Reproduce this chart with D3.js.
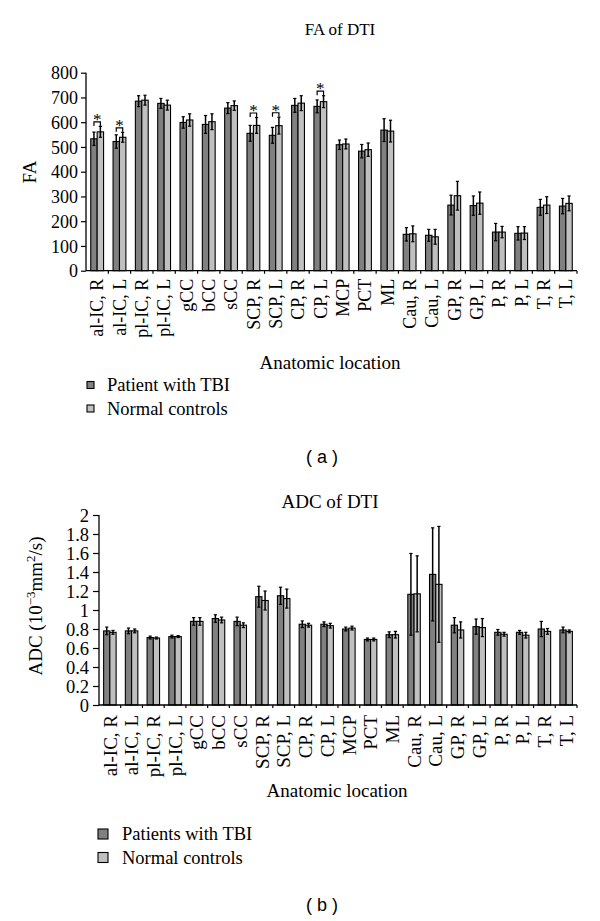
<!DOCTYPE html>
<html>
<head>
<meta charset="utf-8">
<script src="https://cdn.jsdelivr.net/npm/d3@7"></script>
<style>
  html, body { margin: 0; padding: 0; background: #fff; }
  svg { display: block; }
</style>
</head>
<body>
<svg id="chart" width="600" height="921"></svg>
<script>
// ---------- DATA ----------
const categories = ["al-IC, R","al-IC, L","pl-IC, R","pl-IC, L","gCC","bCC","sCC","SCP, R","SCP, L","CP, R","CP, L","MCP","PCT","ML","Cau, R","Cau, L","GP, R","GP, L","P, R","P, L","T, R","T, L"];

const faPatient     = [533,522,685,676,599,591,657,555,547,668,664,509,483,568,147,143,265,263,156,151,256,261];
const faPatientErr  = [27,27,22,20,23,36,22,32,32,28,26,19,27,46,27,24,40,39,35,27,32,31];
const faControl     = [561,539,689,669,609,602,667,587,586,677,683,512,489,564,149,137,303,273,156,152,265,272];
const faControlErr  = [22,20,20,20,25,32,19,32,34,30,24,20,27,44,32,30,58,45,23,26,34,30];
const faSignificant = ["al-IC, R","al-IC, L","SCP, R","SCP, L","CP, L"];
const faTicks = [0,100,200,300,400,500,600,700,800];

const adcPatient    = [0.78,0.78,0.71,0.72,0.88,0.91,0.88,1.14,1.15,0.85,0.85,0.80,0.69,0.74,1.165,1.375,0.84,0.825,0.765,0.765,0.80,0.79];
const adcPatientErr = [0.04,0.03,0.015,0.015,0.04,0.04,0.045,0.11,0.09,0.035,0.025,0.02,0.015,0.03,0.43,0.49,0.08,0.08,0.03,0.02,0.08,0.03];
const adcControl    = [0.765,0.78,0.705,0.72,0.88,0.895,0.84,1.10,1.12,0.84,0.835,0.81,0.69,0.74,1.17,1.27,0.79,0.815,0.745,0.735,0.775,0.775];
const adcControlErr = [0.02,0.02,0.01,0.01,0.04,0.03,0.025,0.10,0.10,0.02,0.025,0.02,0.015,0.035,0.40,0.61,0.085,0.095,0.02,0.03,0.03,0.015];
const adcTicks = [0,0.2,0.4,0.6,0.8,1,1.2,1.4,1.6,1.8,2];

const seriesKeys = ["patient","control"];
const seriesColors = ["#808080","#c0c0c0"];

const SERIF = '"Liberation Serif", "DejaVu Serif", serif';
const SANS = '"Liberation Sans", Arial, sans-serif';

// ---------- DRAW ----------
const svg = d3.select("#chart");
svg.append("rect").attr("width",600).attr("height",921).attr("fill","#fff");

function serifText(sel) { return sel.style("font-family", SERIF).attr("fill", "#000"); }

function drawChart(cfg) {
  const g = svg.append("g");
  const x0 = d3.scaleBand().domain(categories).range([cfg.left, cfg.right]).padding(0);
  const x1 = d3.scaleBand().domain(seriesKeys).range([0, x0.bandwidth()]).paddingInner(0).paddingOuter(0.74);
  const y = d3.scaleLinear().domain(cfg.domain).range([cfg.bottom, cfg.top]);

  const rows = categories.map((c,i) => ({
    cat: c,
    vals: [
      {key:"patient", v: cfg.patient[i], e: cfg.patientErr[i]},
      {key:"control", v: cfg.control[i], e: cfg.controlErr[i]}
    ]
  }));

  const grp = g.selectAll(".grp").data(rows).enter().append("g")
    .attr("transform", d => `translate(${x0(d.cat)},0)`);
  grp.selectAll("rect").data(d => d.vals).enter().append("rect")
    .attr("x", d => x1(d.key))
    .attr("y", d => y(d.v))
    .attr("width", x1.bandwidth())
    .attr("height", d => y(0) - y(d.v))
    .attr("fill", (d,i) => seriesColors[i])
    .attr("stroke", "#000").attr("stroke-width", 1.1);

  const eb = grp.selectAll(".eb").data(d => d.vals).enter().append("g");
  const cx = d => x1(d.key) + x1.bandwidth()/2;
  eb.append("line")
    .attr("x1", cx).attr("x2", cx)
    .attr("y1", d => y(d.v + d.e)).attr("y2", d => y(d.v - d.e))
    .attr("stroke","#000").attr("stroke-width",1.5);
  [1,-1].forEach(s => {
    eb.append("line")
      .attr("x1", d => cx(d) - 1.6).attr("x2", d => cx(d) + 1.6)
      .attr("y1", d => y(d.v + s*d.e)).attr("y2", d => y(d.v + s*d.e))
      .attr("stroke","#000").attr("stroke-width",1.2);
  });

  if (cfg.significant) {
    rows.filter(r => cfg.significant.includes(r.cat)).forEach(r => {
      const top = d3.min(r.vals, d => y(d.v + d.e));
      const by = top - 4.5;
      const xa = x0(r.cat) + cx(r.vals[0]);
      const xb = x0(r.cat) + cx(r.vals[1]);
      g.append("path")
        .attr("d", `M${xa},${by+4}V${by}H${xb}V${by+4}`)
        .attr("fill","none").attr("stroke","#000").attr("stroke-width",1.2);
      serifText(g.append("text"))
        .attr("x", (xa+xb)/2).attr("y", by + 3)
        .attr("text-anchor","middle").attr("font-size", 17)
        .text("*");
    });
  }

  // y axis
  const yAxis = d3.axisLeft(y).tickValues(cfg.ticks).tickSize(cfg.yTickSize).tickPadding(cfg.yTickPad)
    .tickFormat(d => String(d));
  const ya = g.append("g").attr("transform", `translate(${cfg.left},0)`).call(yAxis);
  ya.select(".domain").attr("d", `M0,${y(cfg.domain[0])}V${y(cfg.domain[1])}`).attr("stroke","#000").attr("stroke-width",1.3);
  ya.selectAll(".tick line").attr("stroke","#000").attr("stroke-width",1.2);
  serifText(ya.selectAll(".tick text")).attr("font-size", cfg.yTickFont).attr("dy","0.34em");

  // x axis
  const xa = g.append("g").attr("transform", `translate(0,${cfg.bottom})`);
  xa.append("line").attr("x1", cfg.left).attr("x2", cfg.right).attr("y1",0).attr("y2",0)
    .attr("stroke","#000").attr("stroke-width",1.3);
  const bounds = categories.map(c => x0(c) + x0.bandwidth());
  xa.selectAll(".xt").data(bounds).enter().append("line")
    .attr("x1", d => d).attr("x2", d => d).attr("y1", 0).attr("y2", 3)
    .attr("stroke","#000").attr("stroke-width",1.2);
  serifText(xa.selectAll(".xl").data(categories).enter().append("text"))
    .attr("transform", d => `translate(${x0(d) + x0.bandwidth()/2},${cfg.xLabelGap}) rotate(-90)`)
    .attr("text-anchor","end").attr("dy","0.35em")
    .attr("font-size", cfg.xTickFont)
    .text(d => d);

  serifText(svg.append("text")).attr("x", cfg.titleX).attr("y", cfg.titleY)
    .attr("text-anchor","middle").attr("font-size", cfg.titleFont).text(cfg.title);
  serifText(svg.append("text")).attr("x", cfg.xTitleX).attr("y", cfg.xTitleY)
    .attr("text-anchor","middle").attr("font-size", 19).text("Anatomic location");

  cfg.legend.forEach((name,i) => {
    const ly = cfg.legendY + i*cfg.legendStep;
    svg.append("rect").attr("x", cfg.legendX).attr("y", ly - cfg.legendBox/2)
      .attr("width", cfg.legendBox).attr("height", cfg.legendBox)
      .attr("fill", seriesColors[i]).attr("stroke","#000").attr("stroke-width",1.1);
    serifText(svg.append("text")).attr("x", cfg.legendTextX).attr("y", ly)
      .attr("dy","0.35em").attr("font-size", 18.5).text(name);
  });

  svg.append("text").style("font-family", SANS).attr("fill","#000")
    .attr("x", 322).attr("y", cfg.panelY)
    .attr("text-anchor","middle").attr("dy","0.35em").attr("font-size", 18)
    .style("white-space","pre").text(cfg.panel);
  return y;
}

// (a) FA
drawChart({
  left: 86, right: 577, top: 72.7, bottom: 270.7, domain: [0,800], ticks: faTicks,
  patient: faPatient, patientErr: faPatientErr, control: faControl, controlErr: faControlErr,
  significant: faSignificant,
  yTickSize: 5, yTickPad: 3, yTickFont: 18, xTickFont: 18, xLabelGap: 8,
  title: "FA of DTI", titleX: 340, titleY: 35, titleFont: 17,
  xTitleX: 330, xTitleY: 369,
  legend: ["Patient with TBI","Normal controls"], legendX: 87, legendY: 385, legendStep: 23.5, legendBox: 7, legendTextX: 107,
  panel: "( a )", panelY: 457
});
serifText(svg.append("text"))
  .attr("transform","translate(36,172) rotate(-90)")
  .attr("text-anchor","middle").attr("font-size",19).text("FA");

// (b) ADC
drawChart({
  left: 99, right: 577, top: 515, bottom: 705, domain: [0,2], ticks: adcTicks,
  patient: adcPatient, patientErr: adcPatientErr, control: adcControl, controlErr: adcControlErr,
  significant: null,
  yTickSize: 6, yTickPad: 4, yTickFont: 18.5, xTickFont: 19, xLabelGap: 10,
  title: "ADC of DTI", titleX: 330, titleY: 508, titleFont: 19,
  xTitleX: 337, xTitleY: 797,
  legend: ["Patients with TBI","Normal controls"], legendX: 98, legendY: 834, legendStep: 23.5, legendBox: 10, legendTextX: 122,
  panel: "( b )", panelY: 905
});
const adcLabel = serifText(svg.append("text"))
  .attr("transform","translate(42,606) rotate(-90)")
  .attr("text-anchor","middle").attr("font-size",19);
adcLabel.append("tspan").text("ADC (10");
adcLabel.append("tspan").attr("dy",-7).attr("font-size",13).text("−3");
adcLabel.append("tspan").attr("dy",7).text("mm");
adcLabel.append("tspan").attr("dy",-7).attr("font-size",13).text("2");
adcLabel.append("tspan").attr("dy",7).text("/s)");
</script>
</body>
</html>
